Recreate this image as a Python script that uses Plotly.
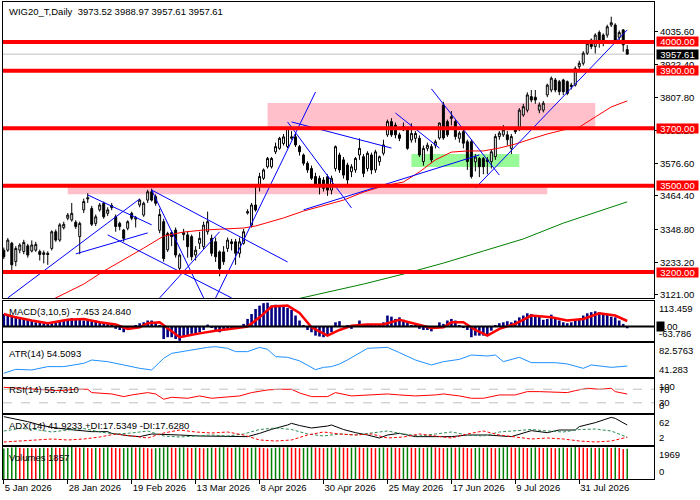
import pandas as pd
import plotly.graph_objects as go
from plotly.subplots import make_subplots

# ----- Data -----
holidays = ['2026-01-06', '2026-04-03', '2026-04-06', '2026-05-01', '2026-06-04']
days = [d.strftime('%Y-%m-%d') for d in pd.bdate_range('2026-01-05', '2026-08-18', freq='C', holidays=holidays)]

opens = [3276, 3276, 3300, 3236, 3276, 3271, 3291, 3273, 3276, 3271,
         3261, 3265, 3282, 3340, 3311, 3354, 3387, 3381, 3373, 3323,
         3416, 3454, 3421, 3369, 3416, 3439, 3404, 3431, 3392, 3369,
         3346, 3352, 3404, 3384, 3433, 3398, 3450, 3479, 3462, 3345,
         3375, 3277, 3337, 3346, 3213, 3330, 3329, 3323, 3259, 3300,
         3288, 3340, 3317, 3305, 3270, 3270, 3282, 3305, 3305, 3265,
         3300, 3405, 3363, 3433, 3497, 3526, 3566, 3566, 3618, 3630,
         3647, 3636, 3665, 3670, 3636, 3607, 3578, 3560, 3532, 3526,
         3520, 3531, 3485, 3560, 3607, 3590, 3572, 3549, 3555, 3607,
         3601, 3560, 3607, 3555, 3584, 3613, 3677, 3723, 3711, 3677,
         3694, 3694, 3659, 3665, 3665, 3584, 3630, 3636, 3641, 3666,
         3781, 3723, 3734, 3723, 3665, 3688, 3653, 3653, 3583, 3595,
         3595, 3590, 3584, 3601, 3671, 3677, 3677, 3630, 3700, 3700,
         3746, 3763, 3810, 3808, 3763, 3763, 3816, 3833, 3868, 3862,
         3868, 3862, 3845, 3850, 3914, 3926, 3961, 4007, 3984, 4033,
         4024, 4024, 4059, 4059, 4016, 4042, 3973.52]
highs = [3285, 3318, 3305, 3290, 3300, 3312, 3298, 3310, 3305, 3278,
         3275, 3272, 3345, 3348, 3370, 3375, 3405, 3440, 3380, 3375,
         3455, 3474, 3430, 3400, 3440, 3445, 3425, 3440, 3400, 3375,
         3350, 3380, 3410, 3395, 3455, 3445, 3486, 3490, 3470, 3420,
         3385, 3340, 3345, 3355, 3265, 3350, 3340, 3330, 3290, 3340,
         3375, 3410, 3330, 3320, 3275, 3290, 3320, 3315, 3315, 3320,
         3350, 3418, 3440, 3500, 3545, 3560, 3600, 3600, 3650, 3670,
         3680, 3705, 3690, 3680, 3642, 3612, 3585, 3570, 3545, 3535,
         3530, 3540, 3535, 3640, 3615, 3600, 3580, 3575, 3600, 3665,
         3610, 3620, 3615, 3625, 3605, 3660, 3730, 3735, 3720, 3685,
         3720, 3700, 3717, 3690, 3675, 3640, 3650, 3645, 3660, 3720,
         3792, 3730, 3760, 3730, 3690, 3695, 3660, 3660, 3610, 3600,
         3600, 3600, 3625, 3680, 3690, 3711, 3690, 3680, 3705, 3770,
         3785, 3825, 3833, 3833, 3790, 3795, 3855, 3880, 3875, 3868,
         3872, 3866, 3858, 3915, 3935, 3968, 4005, 4012, 4030, 4040,
         4030, 4060, 4088, 4065, 4040, 4045, 3988.97]
lows = [3245, 3270, 3205, 3220, 3265, 3262, 3250, 3268, 3270, 3240,
        3230, 3225, 3275, 3305, 3305, 3348, 3380, 3375, 3350, 3262,
        3405, 3440, 3360, 3360, 3410, 3385, 3395, 3415, 3340, 3345,
        3305, 3345, 3380, 3355, 3425, 3392, 3440, 3445, 3430, 3335,
        3236, 3270, 3290, 3250, 3200, 3310, 3250, 3240, 3240, 3280,
        3280, 3330, 3255, 3235, 3185, 3225, 3270, 3275, 3225, 3250,
        3295, 3400, 3355, 3410, 3480, 3520, 3560, 3560, 3610, 3625,
        3640, 3630, 3660, 3635, 3605, 3570, 3545, 3520, 3495, 3470,
        3480, 3465, 3470, 3550, 3545, 3525, 3505, 3530, 3545, 3590,
        3530, 3550, 3540, 3545, 3570, 3605, 3670, 3670, 3665, 3655,
        3690, 3625, 3650, 3650, 3600, 3570, 3620, 3580, 3630, 3660,
        3660, 3670, 3710, 3660, 3650, 3630, 3555, 3525, 3550, 3530,
        3540, 3540, 3560, 3590, 3660, 3670, 3640, 3610, 3680, 3690,
        3740, 3755, 3790, 3785, 3752, 3755, 3808, 3825, 3825, 3815,
        3815, 3815, 3835, 3845, 3905, 3918, 3955, 3975, 3960, 3980,
        3985, 4015, 4052, 3998, 4005, 3966, 3957.61]
closes = [3253, 3311, 3225, 3282, 3294, 3303, 3259, 3294, 3296, 3261,
          3267, 3261, 3340, 3311, 3364, 3366, 3398, 3404, 3358, 3369,
          3445, 3458, 3366, 3392, 3433, 3392, 3416, 3424, 3358, 3358,
          3317, 3375, 3387, 3389, 3450, 3439, 3479, 3450, 3439, 3400,
          3247, 3334, 3323, 3259, 3259, 3337, 3288, 3253, 3276, 3317,
          3363, 3375, 3265, 3253, 3212, 3236, 3311, 3299, 3265, 3305,
          3340, 3410, 3433, 3416, 3532, 3555, 3595, 3595, 3636, 3665,
          3670, 3700, 3670, 3642, 3618, 3578, 3555, 3526, 3503, 3497,
          3491, 3485, 3526, 3636, 3555, 3537, 3520, 3566, 3595, 3630,
          3543, 3613, 3555, 3618, 3601, 3642, 3723, 3677, 3677, 3665,
          3706, 3630, 3682, 3682, 3607, 3630, 3641, 3590, 3653, 3718,
          3666, 3677, 3740, 3671, 3683, 3648, 3584, 3532, 3600, 3566,
          3566, 3584, 3618, 3671, 3683, 3694, 3660, 3671, 3688, 3763,
          3775, 3816, 3798, 3798, 3781, 3787, 3850, 3874, 3833, 3827,
          3827, 3821, 3850, 3908, 3926, 3961, 3995, 3984, 4024, 4001,
          4007, 4053, 4067, 4007, 4033, 3990, 3957.61]

# moving averages, read at selected bars
ma_fast_idx = [12, 14, 20, 25, 30, 35, 40, 45, 50, 55, 60, 63, 70, 75, 80, 85, 90, 95, 100, 104,
               108, 112, 116, 120, 124, 128, 132, 136, 140, 144, 148, 152, 156]
ma_fast_val = [3103, 3117, 3158, 3203, 3242, 3283, 3325, 3339, 3346, 3350, 3353, 3360, 3388, 3412, 3430, 3450,
               3478, 3499, 3513, 3548, 3590, 3617, 3621, 3621, 3631, 3645, 3663, 3680, 3694, 3704, 3739, 3774, 3795]
ma_slow_idx = [72, 80, 90, 100, 110, 120, 130, 140, 150, 156]
ma_slow_val = [3102, 3127, 3158, 3193, 3231, 3273, 3315, 3370, 3416, 3444]

levels = [4000, 3900, 3700, 3500, 3200]
price_ticks = [3121.00, 3233.20, 3348.80, 3464.40, 3576.60, 3692.20, 3807.80, 3922.40, 4035.60]

# zones: first bar, last bar, low, high
zones = [(16, 136, 3470, 3500), (66, 148, 3700, 3788), (102, 129, 3565, 3610)]
# trendlines: bar, price -> bar, price
trendlines = [(1, 3110, 34, 3454), (21, 3468, 37, 3364), (18, 3263, 36, 3336), (26, 3329, 57, 3110),
              (37, 3485, 71, 3235), (37, 3485, 50, 3110), (39, 3110, 54, 3340), (53, 3110, 78, 3826),
              (71, 3722, 87, 3423), (72, 3722, 97, 3631), (75, 3416, 119, 3607), (98, 3753, 109, 3631),
              (107, 3837, 124, 3537), (118, 3492, 156, 4042)]

macd_hist = [56, 49, 49, 44, 41, 34, 30, 27, 19, 19,
             15, 12, 15, 19, 27, 30, 34, 38, 34, 30,
             27, 30, 24, 27, 19, 15, 12, 4, -10, -15,
             -25, -10, -6, 4, 15, 19, 27, 27, 19, 4,
             -55, -47, -47, -55, -63, -47, -40, -32, -32, -25,
             -15, 9, -3, -18, -25, -18, -10, -3, -6, 0,
             12, 34, 56, 78, 93, 104, 106, 93, 97, 93,
             89, 83, 74, 49, 27, 4, -15, -25, -40, -44,
             -47, -40, -25, 19, 24, 0, 4, -10, 0, 27,
             12, 4, 4, 4, 4, 19, 49, 44, 34, 41,
             30, 19, 4, 4, -10, -15, -15, -21, -10, 19,
             12, 27, 34, 27, 4, -6, -15, -47, -40, -40,
             -40, -35, -18, 4, 15, 19, 24, 19, 27, 41,
             49, 59, 56, 49, 44, 30, 34, 53, 34, 27,
             19, 15, 19, 30, 34, 49, 59, 64, 68, 64,
             59, 53, 44, 41, 27, 12, -7.453]
macd_sig_idx = [0, 3, 7, 11, 16, 20, 24, 28, 31, 34, 36, 39, 41, 44, 49, 53, 57, 61, 64, 67, 71, 74, 77,
                81, 84, 87, 91, 95, 99, 103, 107, 110, 112, 115, 118, 121, 124, 128, 132, 137, 141, 145,
                149, 153, 156]
macd_sig_val = [56, 41, 27, 15, 30, 34, 19, 9, -10, -3, 15, 19, -7, -47, -30, -18, -10, 0, 41, 89, 93, 60, -3,
                -40, -15, 4, 9, 9, 30, 12, -6, -3, 19, 19, -15, -40, -10, 12, 49, 41, 27, 34,
                59, 49, 24.84]
macd_scale = [-63.786, 113.459]

atr_idx = [0, 3, 7, 11, 15, 20, 22, 26, 30, 34, 37, 40, 42, 46, 51, 53, 56, 58, 61, 64, 66, 68, 71, 74, 78,
           80, 82, 84, 86, 91, 96, 99, 101, 103, 107, 110, 114, 117, 121, 123, 125, 129, 132, 138, 141,
           145, 147, 152, 156]
atr_val = [45.8, 50.6, 49.8, 53.9, 53.9, 57.9, 61.9, 59.9, 55.9, 51.8, 49.8, 64.0, 70.0, 73.3, 77.3, 78.1,
           76.1, 72.1, 72.1, 77.3, 74.9, 66.0, 65.2, 60.9, 50.2, 53.0, 53.9, 57.1, 62.0, 76.1, 77.3, 70.9,
           66.0, 61.9, 55.9, 59.9, 62.7, 68.0, 66.8, 68.0, 59.9, 65.2, 58.7, 58.7, 57.1, 51.8, 55.9, 53.0,
           54.5093]
atr_scale = [41.283, 82.5763]

rsi_idx = [0, 4, 9, 14, 18, 21, 22, 24, 27, 30, 32, 36, 38, 40, 42, 46, 49, 52, 56, 59, 62, 66, 69, 72, 74,
           77, 81, 83, 87, 91, 96, 99, 103, 108, 110, 114, 117, 120, 124, 128, 131, 134, 138, 141, 143,
           146, 149, 152, 153, 156]
rsi_val = [75.6, 72.7, 69.8, 65.8, 69.8, 69.8, 60.0, 58.0, 56.0, 48.2, 53.1, 60.0, 56.0, 40.4, 46.2, 43.3,
           50.2, 43.3, 46.2, 50.2, 60.0, 67.8, 69.8, 69.8, 59.0, 48.2, 48.2, 60.0, 50.2, 53.1, 56.0, 53.1,
           50.2, 53.1, 56.0, 50.2, 43.3, 43.3, 53.1, 53.1, 62.9, 62.9, 60.0, 60.0, 65.8, 72.7, 69.8, 72.7,
           62.9, 55.731]
rsi_levels = [70, 30]

adx_idx = [0, 2, 6, 9, 12, 16, 19, 22, 26, 27, 31, 34, 37, 41, 44, 49, 52, 57, 61, 64, 67, 71, 72, 74, 77,
           81, 82, 85, 88, 91, 94, 96, 99, 103, 108, 112, 116, 121, 127, 132, 136, 139, 143, 144, 148,
           152, 153, 156]
adx_val = [58.7, 55.3, 48.7, 42.0, 37.3, 33.3, 30.7, 28.7, 28.7, 25.3, 20.7, 18.7, 24.0, 22.0, 22.0, 20.0,
           20.0, 20.0, 18.7, 25.3, 33.3, 42.0, 45.3, 41.0, 36.0, 40.0, 42.0, 33.0, 26.7, 22.0, 16.0, 22.0,
           25.3, 18.7, 18.7, 18.7, 22.0, 22.0, 18.7, 30.7, 26.7, 32.0, 32.0, 38.7, 46.7, 57.3, 55.3, 41.9233]
di_idx = list(range(0, 153, 4)) + [156]
plus_di = [30, 35, 33, 28, 32, 35, 28, 24, 26, 30, 20, 18, 20, 22, 20, 24, 33, 36, 33, 24,
           20, 24, 22, 26, 30, 24, 20, 24, 28, 22, 20, 28, 30, 33, 30, 28, 33, 34, 30, 17.5349]
minus_di = [8, 10, 12, 14, 12, 14, 18, 24, 20, 16, 26, 32, 28, 26, 28, 22, 12, 10, 12, 22,
            28, 24, 22, 24, 16, 18, 24, 20, 16, 24, 30, 22, 18, 14, 16, 14, 10, 8, 10, 17.628]
adx_scale = [2, 62]

volumes = [1880, 1905, 1932, 1950, 1921, 1898, 1915, 1890, 1870, 1902,
           1930, 1911, 1940, 1925, 1908, 1936, 1952, 1969, 1944, 1920,
           1938, 1912, 1895, 1918, 1901, 1925, 1948, 1930, 1910, 1888,
           1905, 1928, 1950, 1931, 1945, 1922, 1900, 1875, 1896, 1918,
           1940, 1956, 1932, 1915, 1934, 1950, 1928, 1909, 1930, 1911,
           1893, 1912, 1935, 1918, 1940, 1961, 1937, 1915, 1936, 1952,
           1929, 1906, 1924, 1945, 1925, 1903, 1882, 1900, 1921, 1944,
           1927, 1948, 1930, 1912, 1891, 1910, 1932, 1955, 1936, 1918,
           1899, 1920, 1941, 1922, 1945, 1926, 1908, 1930, 1951, 1934,
           1913, 1935, 1916, 1897, 1918, 1942, 1923, 1944, 1926, 1905,
           1927, 1946, 1928, 1909, 1931, 1914, 1936, 1958, 1940, 1921,
           1900, 1922, 1945, 1925, 1947, 1929, 1908, 1890, 1911, 1933,
           1914, 1937, 1917, 1896, 1918, 1940, 1960, 1942, 1923, 1945,
           1926, 1905, 1927, 1949, 1931, 1912, 1933, 1915, 1893, 1916,
           1938, 1919, 1941, 1963, 1944, 1924, 1903, 1925, 1906, 1928,
           1909, 1931, 1912, 1934, 1915, 1840, 1857]
vol_scale = [0, 1969]

# ----- Layout helpers -----
FONT = 'Liberation Sans'
TOP, BOTTOM = 2, 479  # plot area in window pixels
panels = {1: (2, 298), 2: (301, 341), 3: (343, 377), 4: (379, 413), 5: (415, 445), 6: (447, 479)}


def at(idx):
    return [days[i] for i in idx]


fig = make_subplots(rows=6, cols=1, shared_xaxes=True, vertical_spacing=0.01)

# ----- Main chart -----
fig.add_trace(go.Candlestick(
    x=days, open=opens, high=highs, low=lows, close=closes,
    increasing=dict(line=dict(color='black', width=1), fillcolor='white'),
    decreasing=dict(line=dict(color='black', width=1), fillcolor='black'),
    hoverinfo='skip'), 1, 1)
fig.add_trace(go.Scatter(x=at(ma_fast_idx), y=ma_fast_val, mode='lines', line=dict(color='red', width=1)), 1, 1)
fig.add_trace(go.Scatter(x=at(ma_slow_idx), y=ma_slow_val, mode='lines', line=dict(color='green', width=1)), 1, 1)

for n, (first, last, low, high) in enumerate(zones):
    fig.add_shape(type='rect', xref='x', yref='y', x0=days[first], x1=days[last], y0=low, y1=high,
                  fillcolor='#98FB98' if n == 2 else '#FFC0CB', line_width=0, layer='below')
for b0, p0, b1, p1 in trendlines:
    fig.add_shape(type='line', xref='x', yref='y', x0=days[b0], y0=p0, x1=days[b1], y1=p1,
                  line=dict(color='blue', width=1))
fig.add_shape(type='line', xref='paper', yref='y', x0=0, x1=1, y0=closes[-1], y1=closes[-1],
              line=dict(color='#C0C0C0', width=1), layer='below')
for lvl in levels:
    fig.add_shape(type='line', xref='paper', yref='y', x0=0, x1=1, y0=lvl, y1=lvl, line=dict(color='red', width=4))
    fig.add_annotation(x=1, xref='paper', xanchor='left', xshift=2, y=lvl, yref='y', text=f'{lvl:.2f}',
                       showarrow=False, bgcolor='red', font=dict(color='white', size=9.5), width=41, height=9,
                       borderpad=0)
fig.add_annotation(x=1, xref='paper', xanchor='left', xshift=2, y=closes[-1], yref='y', text=f'{closes[-1]:.2f}',
                   showarrow=False, bgcolor='black', font=dict(color='white', size=9.5), width=41, height=9,
                   borderpad=0)
fig.add_annotation(x=0, xref='paper', xanchor='left', xshift=4, y=1, yref='y domain', yanchor='top', yshift=-2,
                   text=f'WIG20_T,Daily\u00a0 {opens[-1]:.2f} {highs[-1]:.2f} {lows[-1]:.2f} {closes[-1]:.2f}',
                   showarrow=False)

# ----- MACD -----
fig.add_trace(go.Bar(x=days, y=macd_hist, width=0.65, marker=dict(color='#000080', line_width=0)), 2, 1)
fig.add_trace(go.Scatter(x=at(macd_sig_idx), y=macd_sig_val, mode='lines', line=dict(color='red', width=2.5)), 2, 1)
fig.add_shape(type='line', xref='paper', yref='y2', x0=0, x1=1, y0=0, y1=0, line=dict(color='black', width=2))

# ----- ATR -----
fig.add_trace(go.Scatter(x=at(atr_idx), y=atr_val, mode='lines', line=dict(color='#1E90FF', width=1)), 3, 1)

# ----- RSI -----
fig.add_trace(go.Scatter(x=at(rsi_idx), y=rsi_val, mode='lines', line=dict(color='red', width=1)), 4, 1)
for lvl in rsi_levels:
    fig.add_shape(type='line', xref='paper', yref='y4', x0=0, x1=1, y0=lvl, y1=lvl,
                  line=dict(color='#C0C0C0', width=1, dash='dash'))

# ----- ADX -----
fig.add_trace(go.Scatter(x=at(adx_idx), y=adx_val, mode='lines', line=dict(color='black', width=1)), 5, 1)
fig.add_trace(go.Scatter(x=at(di_idx), y=plus_di, mode='lines',
                         line=dict(color='#2E8B57', width=1, dash='3px,2px')), 5, 1)
fig.add_trace(go.Scatter(x=at(di_idx), y=minus_di, mode='lines',
                         line=dict(color='red', width=1, dash='3px,2px')), 5, 1)

# ----- Volumes: thin sticks, green when volume rises -----
for rising, colour in ((True, '#008000'), (False, '#FF0000')):
    sx, sy = [], []
    for i, v in enumerate(volumes):
        if (i == 0 or v > volumes[i - 1]) == rising:
            sx += [days[i], days[i], None]
            sy += [0, v, None]
    fig.add_trace(go.Scatter(x=sx, y=sy, mode='lines', line=dict(color=colour, width=1.5)), 6, 1)

# ----- Indicator captions and scales -----
captions = {
    2: f'MACD(3,10,5) {macd_hist[-1]:.3f} {macd_sig_val[-1]:.3f}',
    3: f'ATR(14) {atr_val[-1]:.4f}',
    4: f'RSI(14) {rsi_val[-1]:.4f}',
    5: f'ADX(14) {adx_val[-1]:.4f} +DI:{plus_di[-1]:.4f} -DI:{minus_di[-1]:.4f}',
    6: f'Volumes {volumes[-1]}',
}
for row, text in captions.items():
    fig.add_annotation(x=0, xref='paper', xanchor='left', xshift=4, y=1, yref=f'y{row} domain', yanchor='top',
                       yshift=-3, text=text, showarrow=False)

scales = {2: macd_scale, 3: atr_scale, 4: [0, 100], 5: adx_scale, 6: vol_scale}
fmt = {2: '{:.3f}', 3: '{:.4f}', 4: '{:g}', 5: '{:g}', 6: '{:g}'}
for row, (lo, hi) in scales.items():
    fig.update_yaxes(range=[lo, hi], row=row, col=1)
    for val, pos, anchor in ((hi, 1, 'top'), (lo, 0, 'bottom')):
        text = fmt[row].format(val)
        if row == 3 and val == lo:
            text = '41.283'
        fig.add_annotation(x=1, xref='paper', xanchor='left', xshift=3, y=pos, yref=f'y{row} domain',
                           yanchor=anchor, text=text, showarrow=False)
for lvl in rsi_levels:
    fig.add_annotation(x=1, xref='paper', xanchor='left', xshift=3, y=lvl, yref='y4', text=str(lvl),
                       showarrow=False)
fig.add_annotation(x=1, xref='paper', xanchor='left', xshift=2, y=0, yref='y2', text=' ', showarrow=False,
                   bgcolor='black', width=7, height=9, borderpad=0)
fig.add_annotation(x=1, xref='paper', xanchor='left', xshift=3, y=0, yref='y2', text='0.00', showarrow=False)

# ----- Axes -----
for row, (top, bottom) in panels.items():
    name = 'yaxis' if row == 1 else f'yaxis{row}'
    fig.layout[name].domain = [(BOTTOM - bottom) / (BOTTOM - TOP), (BOTTOM - top) / (BOTTOM - TOP)]

fig.update_xaxes(type='category', categoryorder='array', categoryarray=days, range=[-0.2, 162.7],
                 showgrid=False, zeroline=False, showline=True, mirror=True, linecolor='black', linewidth=1,
                 rangeslider_visible=False, ticks='', showticklabels=False)
tick_idx = list(range(0, len(days), 16))
fig.update_xaxes(row=6, col=1, showticklabels=True, ticks='outside', ticklen=4, tickcolor='black',
                 tickvals=at(tick_idx),
                 ticktext=[pd.Timestamp(days[i]).strftime('%-d %b %Y') for i in tick_idx],
                 ticklabelposition='outside right')
fig.update_yaxes(side='right', showgrid=False, zeroline=False, showline=True, mirror=True, linecolor='black',
                 linewidth=1, showticklabels=False, ticks='')
fig.update_yaxes(row=1, col=1, range=[3109.6, 4139], showticklabels=True, tickvals=price_ticks,
                 ticktext=[f'{t:.2f}' for t in price_ticks], ticks='outside', ticklen=3, tickcolor='black')

fig.update_layout(width=700, height=500, margin=dict(l=3, r=46, t=TOP, b=500 - BOTTOM),
                  paper_bgcolor='white', plot_bgcolor='white', showlegend=False, barmode='overlay',
                  boxgap=0.3, font=dict(family=FONT, size=9.5, color='black'), hovermode=False)

# the page's default body margin would push the 700x500 figure off the window
fig.write_html('out.html', config={'displayModeBar': False},
               post_script="document.body.style.margin = '0';")
